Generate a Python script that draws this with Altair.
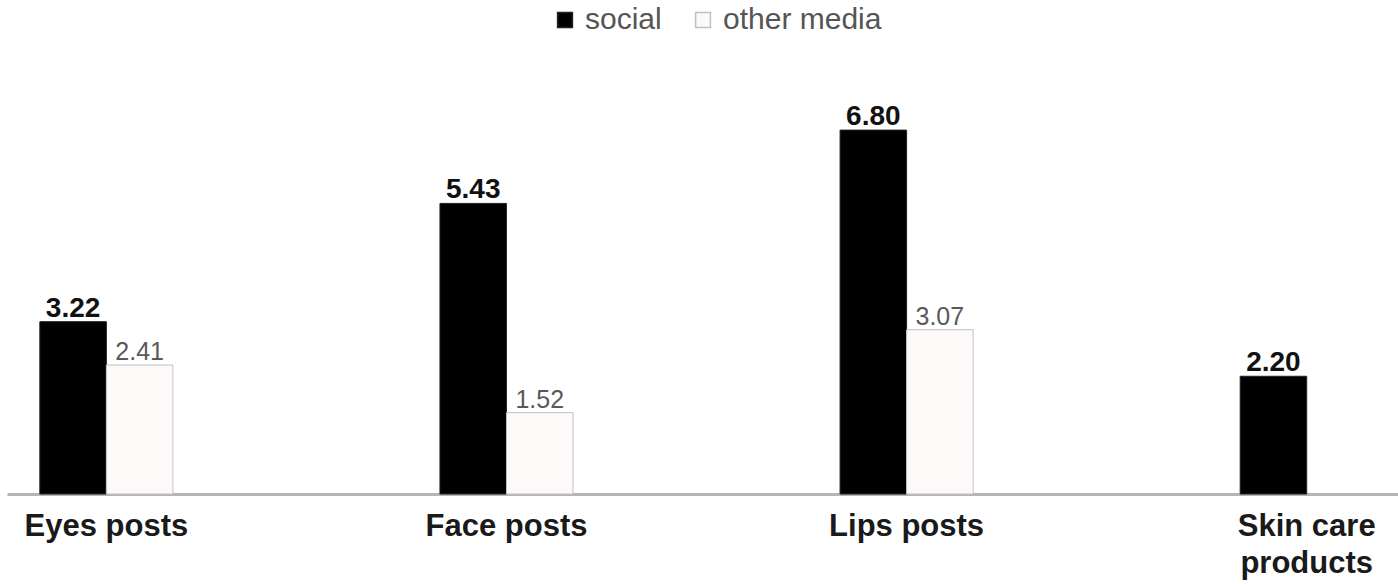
import altair as alt
import pandas as pd

categories = ["Eyes posts", "Face posts", "Lips posts", "Skin care|products"]
social = [3.22, 5.43, 6.80, 2.20]
other_media = [2.41, 1.52, 3.07, None]
series = ["social", "other media"]

rows = []
for c, s, o in zip(categories, social, other_media):
    rows.append({"category": c, "series": "social", "value": s})
    if o is not None:
        rows.append({"category": c, "series": "other media", "value": o})
df = pd.DataFrame(rows)

x_enc = alt.X(
    "category:N",
    sort=categories,
    scale=alt.Scale(paddingInner=0.6675, paddingOuter=0.072, align=0.57),
    axis=alt.Axis(
        title=None,
        ticks=False,
        domainColor="#b5b5b5",
        domainWidth=3,
        labelAngle=0,
        labelFont="Liberation Sans",
        labelFontSize=31,
        labelFontWeight="bold",
        labelColor="#1a1a1a",
        labelPadding=17,
        labelLineHeight=37,
        labelBaseline="top",
        labelExpr="split(datum.label, '|')",
    ),
)
xoff = alt.XOffset("series:N", sort=series, scale=alt.Scale(paddingInner=0, paddingOuter=0))
y_enc = alt.Y("value:Q", scale=alt.Scale(domain=[0, 8.11], nice=False), axis=None)

bars = alt.Chart(df).mark_bar(strokeWidth=1).encode(
    x=x_enc,
    xOffset=xoff,
    y=y_enc,
    fill=alt.Fill(
        "series:N",
        sort=series,
        scale=alt.Scale(domain=series, range=["#000000", "#fdf9f9"]),
        legend=alt.Legend(
            title=None,
            orient="none",
            direction="horizontal",
            legendX=543,
            legendY=-55,
            labelFont="Liberation Sans",
            labelFontSize=30,
            labelColor="#555555",
            symbolType="square",
            symbolSize=220,
            symbolStrokeWidth=1.5,
            labelOffset=5,
            columnPadding=26,
            padding=0,
        ),
    ),
    stroke=alt.Stroke(
        "series:N",
        sort=series,
        scale=alt.Scale(domain=series, range=["#222222", "#c0c0c0"]),
        legend=None,
    ),
)

text_social = alt.Chart(df).transform_filter("datum.series == 'social'").mark_text(
    font="Liberation Sans", fontSize=28, fontWeight="bold", color="#111111",
    baseline="alphabetic", dy=-5,
).encode(x=x_enc, xOffset=xoff, y=y_enc, text=alt.Text("value:Q", format=".2f"))

text_other = alt.Chart(df).transform_filter("datum.series == 'other media'").mark_text(
    font="Liberation Sans", fontSize=25, color="#595959",
    baseline="alphabetic", dy=-5,
).encode(x=x_enc, xOffset=xoff, y=y_enc, text=alt.Text("value:Q", format=".2f"))

chart = alt.layer(bars, text_social, text_other).properties(
    width=1391,
    height=434,
    autosize=alt.AutoSizeParams(type="none"),
    padding={"left": 7, "top": 60, "right": 0, "bottom": 90},
    background="white",
).configure_view(stroke=None)

chart.save("out.html", embed_options={"renderer": "svg", "actions": False})
